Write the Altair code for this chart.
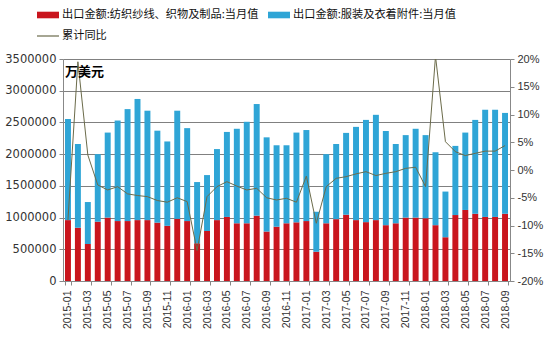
import altair as alt
import pandas as pd

months = [f"{y}-{m:02d}" for y in range(2015, 2019) for m in range(1, 13)][:45]
x_labels = months[::2]

textile = [960000, 840000, 583000, 935000, 1000000, 945000, 945000, 960000, 960000, 920000,
           870000, 980000, 945000, 595000, 788000, 960000, 1010000, 910000, 910000, 1030000,
           780000, 856000, 910000, 925000, 945000, 460000, 910000, 975000, 1045000, 960000,
           928000, 960000, 880000, 910000, 1000000, 1000000, 990000, 880000, 690000, 1040000,
           1120000, 1060000, 1010000, 1010000, 1060000]
apparel = [1594000, 1320000, 662000, 1065000, 1340000, 1585000, 1765000, 1910000, 1725000, 1450000,
           1330000, 1705000, 1465000, 965000, 882000, 1120000, 1340000, 1490000, 1600000, 1760000,
           1485000, 1284000, 1230000, 1415000, 1435000, 630000, 1090000, 1185000, 1290000, 1470000,
           1612000, 1660000, 1485000, 1250000, 1300000, 1400000, 1310000, 1150000, 720000, 1090000,
           1220000, 1480000, 1690000, 1690000, 1590000]
cum_yoy = [-9.0, 19.5, 2.7, -2.7, -3.6, -3.0, -4.3, -4.6, -4.8, -5.5,
           -5.8, -5.0, -5.7, -14.5, -4.8, -3.0, -2.1, -2.9, -3.6, -3.3,
           -5.0, -5.4, -5.1, -5.8, -1.1, -9.6, -3.0, -1.5, -1.2, -0.7,
           -0.3, -1.0, -0.6, -0.3, 0.3, 0.5, -3.0, 20.5, 5.1, 3.3,
           2.6, 3.0, 3.4, 3.4, 4.4]

left_ticks = [0, 500000, 1000000, 1500000, 2000000, 2500000, 3000000, 3500000]
right_ticks = [-20, -15, -10, -5, 0, 5, 10, 15, 20]

LEG1 = "出口金额:纺织纱线、织物及制品:当月值"
LEG2 = "出口金额:服装及衣着附件:当月值"
LEG3 = "累计同比"
RED = "#c9151d"
BLUE = "#2fa5d6"
LINE = "#6b6b4a"
CJK = "Noto Sans CJK SC"

df = pd.DataFrame({"month": months, "textile": textile, "apparel": apparel, "yoy": cum_yoy})
df["total"] = df["textile"] + df["apparel"]
df["s1"] = LEG1
df["s2"] = LEG2
df["s3"] = LEG3

xenc = alt.X(
    "month:N", sort=months, title=None,
    scale=alt.Scale(paddingInner=0.4, paddingOuter=0.2),
    axis=alt.Axis(values=x_labels, labelAngle=270, labelFont="Liberation Sans", labelFontSize=10.5,
                  labelColor="#333333", tickBand="extent", tickSize=4, tickColor="#888888",
                  domainColor="#888888", labelPadding=5, grid=False),
)

left_axis = alt.Axis(values=left_ticks, format="d", title=None, grid=True, gridColor="#808080",
                     gridWidth=1, domainColor="#888888", tickColor="#888888", tickSize=4,
                     labelFont="DejaVu Sans", labelFontSize=11.5, labelColor="#333333", labelPadding=3)
yscale = alt.Scale(domain=[0, 3500000], nice=False)

SWATCH = "M-1,-0.3H1V0.3H-1Z"


def leg(x, y, sym):
    return alt.Legend(orient="none", legendX=x, legendY=y, title=None, direction="horizontal",
                      symbolType=sym, symbolSize=484, symbolStrokeWidth=1.2, labelFont=CJK,
                      labelFontSize=11.2, labelColor="#111111", labelOffset=2, padding=0,
                      symbolOpacity=1, labelLimit=400)


base = alt.Chart(df)

red = base.mark_bar().encode(
    x=xenc,
    y=alt.Y("textile:Q", scale=yscale, axis=left_axis),
    color=alt.Color("s1:N", scale=alt.Scale(range=[RED]), legend=leg(-27, -56, SWATCH)),
)

blue = base.mark_bar().encode(
    x=xenc,
    y=alt.Y("textile:Q", scale=yscale, axis=left_axis),
    y2="total:Q",
    color=alt.Color("s2:N", scale=alt.Scale(range=[BLUE]), legend=leg(204, -56, SWATCH)),
)

bars = alt.layer(red, blue).resolve_scale(color="independent")

line = base.mark_line(strokeWidth=1, clip=True).encode(
    x=xenc,
    y=alt.Y("yoy:Q", scale=alt.Scale(domain=[-20, 20], nice=False),
            axis=alt.Axis(orient="right", values=right_ticks, labelExpr="datum.value + '%'",
                          title=None, grid=False, domainColor="#888888", tickColor="#888888",
                          tickSize=4, labelFont="Liberation Sans", labelFontSize=11,
                          labelColor="#333333", labelPadding=3)),
    stroke=alt.Stroke("s3:N", scale=alt.Scale(range=[LINE]), legend=leg(-27, -35, "stroke")),
)

unit = alt.Chart(pd.DataFrame({"t": ["万美元"]})).mark_text(
    align="left", baseline="middle", font=CJK, fontSize=13, fontWeight="bold", color="#000000"
).encode(x=alt.value(2), y=alt.value(13), text="t:N")

chart = alt.layer(bars, line, unit).resolve_scale(y="independent").properties(
    width=447, height=222, autosize="none",
    padding={"left": 63, "top": 59, "right": 38, "bottom": 56},
).configure_view(stroke=None).configure(background="white")

chart.save("out.html", embed_options={"renderer": "svg", "actions": False})
